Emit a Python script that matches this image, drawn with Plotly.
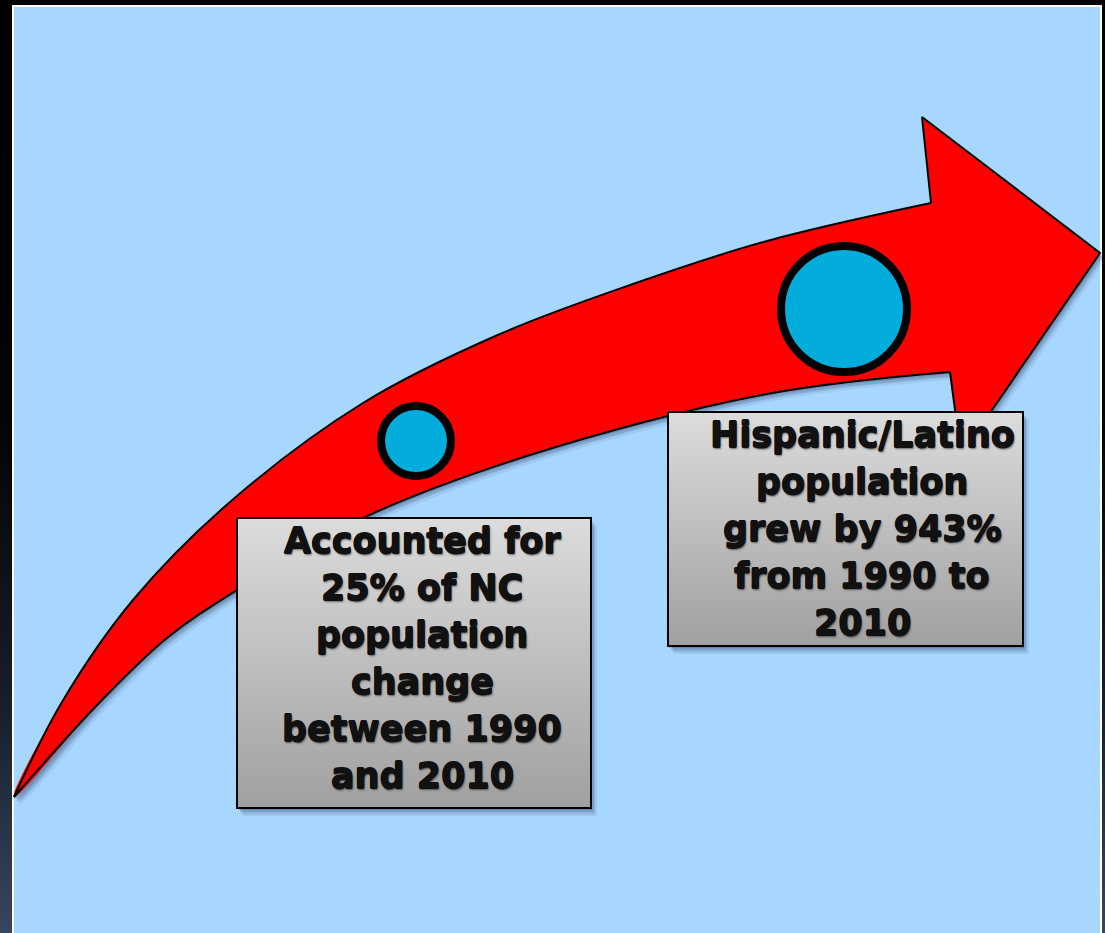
import plotly.graph_objects as go

W, H = 1105, 933

# Arrow outline (upper edge from tail to head, lower edge from tail to head)
arrow_upper_x = [14, 62, 133, 230, 363, 500, 633, 767, 931]
arrow_upper_y = [797, 702, 600, 502, 403, 334, 284, 241, 203]
arrow_lower_x = [14, 100, 167, 237, 363, 530, 767, 950]
arrow_lower_y = [797, 702, 638, 590, 518, 455, 394, 372]
head_x = [931, 922, 1100, 961, 950]
head_y = [203, 117, 253, 455, 372]
# points inside the head used to carry the smooth body fill under it
body_end_x = [1000, 1010]
body_end_y = [190, 366]

# Circles
circle_x = [416, 844]
circle_y = [441, 309]
circle_size = [70, 126]

# Text boxes
box_x0 = [237, 668]
box_x1 = [591, 1023]
box_y0 = [518, 412]
box_y1 = [808, 646]
text_cx = [422, 862]
text_baseline0 = [553, 447]
box_lines = [
    ["Accounted for", "25% of NC", "population", "change", "between 1990", "and 2010"],
    ["Hispanic/Latino", "population", "grew by 943%", "from 1990 to", "2010"],
]

RED = "#ff0000"
CYAN = "#02acdb"
BLUE_BG = "#a7d6fe"

fig = go.Figure()

def poly(x, y, **kw):
    fig.add_trace(go.Scatter(x=x, y=y, hoverinfo="skip", showlegend=False, **kw))

# outer dark background gradient
poly([0, W, W, 0, 0], [0, 0, H, H, 0], mode="lines", fill="toself", line=dict(width=0),
     fillgradient=dict(type="vertical", start=0, stop=H,
                       colorscale=[[0, "#000000"], [0.45, "#040404"], [0.75, "#161d2b"], [1, "#36465f"]]))

# white frame & blue panel
poly([12, 1102, 1102, 12, 12], [5, 5, H + 5, H + 5, 5], mode="lines",
     fill="toself", fillcolor="white", line=dict(width=0))
poly([14, 1100, 1100, 14, 14], [7, 7, H + 5, H + 5, 7], mode="lines",
     fill="toself", fillcolor=BLUE_BG, line=dict(width=0))

# arrow body (smooth) : tail -> upper edge -> into head -> lower edge reversed -> tail
bx = arrow_upper_x + body_end_x + arrow_lower_x[::-1]
by = arrow_upper_y + body_end_y + arrow_lower_y[::-1]
hx = head_x + [head_x[0]]
hy = head_y + [head_y[0]]

# arrow soft shadow
for dx, dy, op in [(6, 7, 0.06), (4, 5, 0.09), (3, 4, 0.11), (2, 2, 0.14)]:
    poly([v + dx for v in bx], [v + dy for v in by], mode="lines", fill="toself",
         fillcolor=f"rgba(10,20,50,{op})", line=dict(width=0, shape="spline"))
    poly([v + dx for v in hx], [v + dy for v in hy], mode="lines", fill="toself",
         fillcolor=f"rgba(10,20,50,{op})", line=dict(width=0))

poly(bx, by, mode="lines", fill="toself", fillcolor=RED, line=dict(width=0, shape="spline"))
poly(hx, hy, mode="lines", fill="toself", fillcolor=RED, line=dict(width=0))
# outlines
poly(arrow_upper_x, arrow_upper_y, mode="lines", line=dict(color="black", width=2, shape="spline"))
poly(arrow_lower_x, arrow_lower_y, mode="lines", line=dict(color="black", width=2, shape="spline"))
poly(head_x, head_y, mode="lines", line=dict(color="black", width=2))

# circles
fig.add_trace(go.Scatter(x=circle_x, y=circle_y, mode="markers",
                         marker=dict(size=circle_size, color=CYAN, opacity=1,
                                     line=dict(color="black", width=8)),
                         hoverinfo="skip", showlegend=False))

# boxes
TEXT_SHADOW = ("0.6px 0 0 #111, -0.6px 0 0 #111, 0 0.6px 0 #111, 0 -0.6px 0 #111, "
               "1px 2px 2px rgba(0,0,0,0.5)")
for i in range(2):
    x0, x1, y0, y1 = box_x0[i], box_x1[i], box_y0[i], box_y1[i]
    for dx, dy, op in [(6, 8, 0.07), (4, 6, 0.10), (3, 4, 0.13), (1, 2, 0.18)]:
        poly([x0 + dx, x1 + dx, x1 + dx, x0 + dx, x0 + dx],
             [y0 + dy, y0 + dy, y1 + dy, y1 + dy, y0 + dy],
             mode="lines", fill="toself", fillcolor=f"rgba(10,20,50,{op})", line=dict(width=0))
    poly([x0, x1, x1, x0, x0], [y0, y0, y1, y1, y0], mode="lines",
         fill="toself", line=dict(color="black", width=2),
         fillgradient=dict(type="vertical", start=y0, stop=y1,
                           colorscale=[[0, "#dcdcdc"], [1, "#a0a0a0"]]))
    for j, t in enumerate(box_lines[i]):
        base = text_baseline0[i] + 47 * j
        fig.add_annotation(x=text_cx[i], y=base - 12.5, text=t, showarrow=False,
                           xanchor="center", yanchor="middle",
                           font=dict(family="DejaVu Sans", size=35, color="#111111", weight="bold",
                                     shadow=TEXT_SHADOW))

fig.update_layout(
    width=W, height=H, margin=dict(l=0, r=0, t=0, b=0),
    paper_bgcolor="black", plot_bgcolor="black",
    xaxis=dict(range=[0, W], visible=False, fixedrange=True),
    yaxis=dict(range=[H, 0], visible=False, fixedrange=True),
    showlegend=False,
)

fig.write_html("out.html", config={"displayModeBar": False},
               post_script="document.body.style.margin='0';document.body.style.overflow='hidden';")
